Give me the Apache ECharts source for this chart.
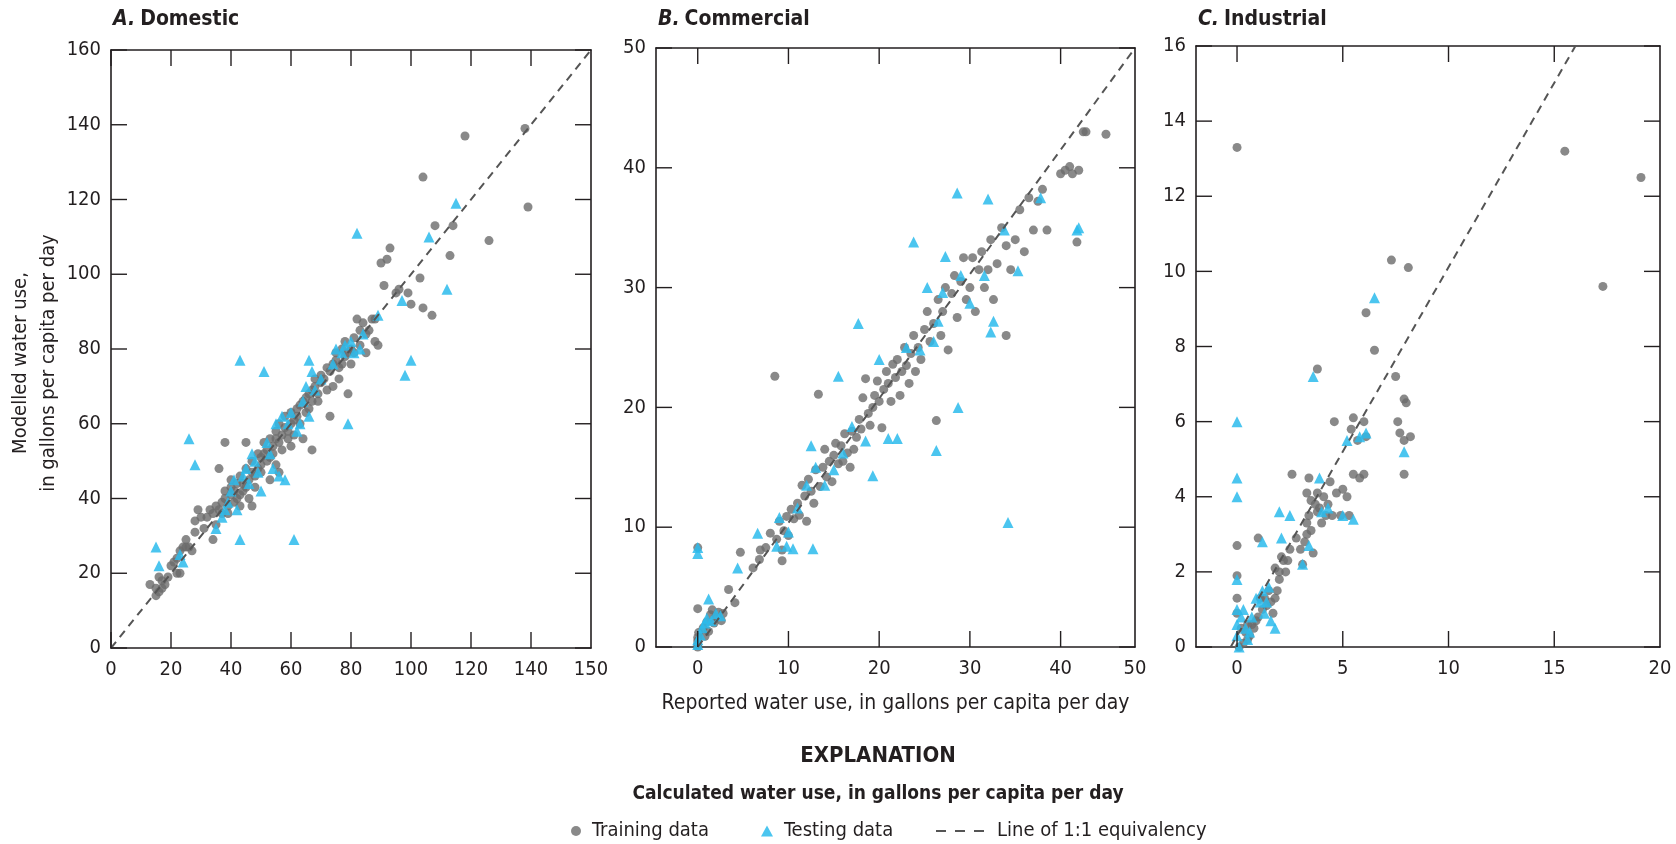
<!DOCTYPE html>
<html>
<head>
<meta charset="utf-8">
<title>Modelled vs reported water use</title>
<script src="https://cdn.jsdelivr.net/npm/echarts@6/dist/echarts.min.js"></script>
<style>
  html, body { margin: 0; padding: 0; background: #fff; }
  #chart { width: 1676px; height: 844px; }
</style>
</head>
<body>
<div id="chart"></div>
<script>
// values, [reported, modelled]
const domesticTrain = [
  [13,17],[15,16],[15,14],[16,15],[17,16],[17,18],[18,17],[16,19],[19,19],[20,22],[21,23],[22,24],[22,20],[23,20],
  [23,26],[24,27],[25,27],[25,29],[26,27],[27,26],[28,31],[28,34],[29,37],[30,35],[31,32],[32,35],[33,37],[34,29],
  [34,36],[35,38],[35,33],[36,37],[37,36],[37,39],[38,42],[38,40],[38,55],[39,38],[39,36],[40,41],[40,45],[40,43],
  [41,39],[41,42],[42,44],[42,40],[43,41],[43,46],[43,38],[44,44],[44,42],[45,48],[45,43],[46,45],[46,40],[47,47],
  [47,50],[48,46],[48,43],[49,48],[49,52],[50,49],[50,51],[50,47],[51,52],[51,55],[52,50],[52,53],[53,56],[53,51],
  [54,54],[54,52],[55,58],[55,56],[55,49],[56,55],[56,60],[57,57],[57,53],[58,59],[58,62],[59,58],[59,56],[60,60],
  [60,63],[61,61],[61,57],[62,64],[62,62],[63,65],[63,60],[64,66],[64,56],[65,67],[65,63],[66,68],[66,64],[67,69],
  [67,66],[67,53],[68,70],[68,72],[69,68],[69,66],[70,71],[70,73],[71,72],[72,75],[72,69],[73,74],[73,62],[74,76],
  [74,70],[75,77],[75,79],[76,75],[76,72],[77,80],[77,76],[78,78],[78,82],[79,79],[79,68],[80,80],[80,76],[81,83],
  [81,79],[82,88],[83,81],[83,85],[84,87],[85,79],[85,84],[86,85],[87,88],[88,88],[88,82],[89,81],[90,103],[91,97],
  [92,104],[93,107],[95,95],[96,96],[99,95],[100,92],[103,99],[104,91],[104,126],[107,89],[108,113],[113,105],
  [114,113],[118,137],[126,109],[138,139],[139,118],[36,48],[45,55],[60,54],[53,45],[47,38],[56,47]
];
const domesticTest = [
  [15,27],[16,22],[23,25],[24,23],[26,56],[28,49],[35,32],[37,35],[38,37],[39,39],[40,42],[41,45],[42,37],[43,77],
  [43,29],[44,46],[45,48],[46,44],[47,52],[48,50],[49,47],[50,42],[51,74],[52,55],[53,52],[54,48],[55,60],[56,46],
  [57,62],[58,45],[59,60],[60,63],[61,29],[62,58],[63,60],[64,66],[65,70],[66,62],[66,77],[67,74],[68,69],[70,72],
  [74,76],[75,80],[77,79],[78,81],[79,60],[80,82],[81,79],[82,111],[83,80],[84,84],[89,89],[97,93],[98,73],
  [100,77],[106,110],[112,96],[115,119]
];
const commercialTrain = [
  [0,0],[0,0.2],[0,0.5],[0,0.8],[0.1,1.2],[0,3.2],[0,8.3],[0.6,1.6],[0.8,0.9],[1,2.1],[1.2,1.3],[1.4,2.7],[1.6,3.1],
  [1.8,2],[2,2.5],[2.3,2.9],[2.6,2.2],[2.8,2.8],[3.4,4.8],[4.1,3.7],[4.7,7.9],[6.1,6.6],[6.8,7.3],[6.9,8.1],[7.5,8.3],
  [8,9.5],[8.5,22.6],[8.7,9],[9,10.5],[9.3,7.2],[9.3,8.1],[9.5,9.7],[9.8,10.9],[10,9.3],[10.3,11.5],[10.6,10.7],
  [11,12],[11.2,11],[11.5,13.5],[11.8,12.6],[12,10.5],[12.2,14],[12.5,13],[12.8,12],[13,14.8],[13.3,21.1],[13.5,13.4],
  [13.8,15],[14,16.5],[14.2,14.2],[14.5,15.5],[14.8,13.8],[15,16],[15.2,17],[15.5,15.3],[15.8,16.8],[16,15.5],
  [16.2,17.8],[16.5,16.2],[16.8,15],[17,18],[17.2,16.5],[17.5,17.5],[17.8,19],[18,18.2],[18.2,20.8],[18.5,22.4],
  [18.8,19.5],[19,18.5],[19.3,20],[19.5,21],[19.8,22.2],[20,20.5],[20.3,18.3],[20.5,21.5],[20.8,23],[21,22],
  [21.3,20.5],[21.5,23.6],[21.8,22.5],[22,24],[22.3,21],[22.5,23],[22.8,25],[23,23.5],[23.3,22],[23.5,24.5],
  [23.8,26],[24,23],[24.3,25],[24.6,24],[25,26.5],[25.3,28],[25.6,25.5],[26,27],[26.3,18.9],[26.5,29],[26.8,26],
  [27,28],[27.3,30],[27.6,24.8],[28,29.5],[28.3,31],[28.6,27.5],[29,30.5],[29.3,32.5],[29.6,29],[30,30],[30.3,32.5],
  [30.6,28],[31,31.5],[31.3,33],[31.6,30],[32,31.5],[32.3,34],[32.6,29],[33,32],[33.5,35],[34,26],[34,33.5],
  [34.5,31.5],[35,34],[35.5,36.5],[36,33],[36.5,37.5],[37,34.8],[37.5,37.2],[38,38.2],[38.5,34.8],[40,39.5],
  [40.5,39.8],[41,40.1],[41.3,39.5],[41.8,33.8],[42,39.8],[42.5,43],[42.8,43],[45,42.8]
];
const commercialTest = [
  [0,0.2],[0,0.6],[0.3,1],[0.5,1.6],[0.8,2],[1,2.4],[1.2,4],[1.5,2.2],[2,2.8],[2.5,2.6],[0,8.3],[0,7.8],[4.4,6.6],
  [6.6,9.5],[8.7,8.4],[9.8,8.4],[10.5,8.2],[12.7,8.2],[9,10.8],[10,9.6],[11,11.6],[12,13.5],[12.5,16.8],[13,15],
  [14,13.5],[15,14.8],[15.5,22.6],[16,16.2],[17,18.4],[17.7,27],[18.5,17.2],[19.3,14.3],[20,24],[21,17.4],[22,17.4],
  [23,25],[23.8,33.8],[24.5,24.8],[25.3,30],[26,25.5],[26.3,16.4],[26.5,27.2],[27.3,32.6],[27,29.6],[28.6,37.9],
  [28.7,20],[29,31],[30,28.7],[31.6,31],[32,37.4],[32.3,26.3],[32.6,27.2],[33.8,34.8],[34.2,10.4],[35.3,31.4],
  [37.8,37.5],[41.8,34.8],[42,35]
];
const industrialTrain = [
  [0,13.3],[15.5,13.2],[17.3,9.6],[19.1,12.5],[7.3,10.3],[8.1,10.1],[6.1,8.9],[6.5,7.9],[3.8,7.4],[7.5,7.2],[7.6,6],
  [7.9,6.6],[8,6.5],[8.2,5.6],[7.7,5.7],[7.9,5.5],[7.9,4.6],[5.5,6.1],[5.4,5.8],[6,6],[5.7,5.5],[6.1,5.6],[5.5,4.6],
  [5.8,4.5],[6,4.6],[4.6,6],[4.4,4.4],[4.7,4.1],[4.2,3.5],[4.5,3.5],[3.4,4.5],[3.3,4.1],[3.4,3.5],[3.3,3.3],[3.3,3],
  [3.2,2.8],[3,2.6],[2.6,4.6],[2.5,2.6],[2.8,2.9],[3.1,2.2],[2.1,2.4],[2,2],[2.3,2],[2,1.8],[1.9,1.5],[1.5,1.5],
  [1.3,1.3],[1.6,1.2],[1.2,1],[1,0.8],[0.9,0.7],[0.8,0.5],[0.6,0.3],[0.5,0.2],[0.3,0.1],[0.1,0],[0,2.7],[0,1.9],
  [0,1.3],[0,0.9],[0.2,0.5],[1.1,1.3],[1.4,1.1],[1.8,1.3],[1.7,0.9],[2.2,2.3],[2.4,2.3],[1.8,2.1],[3.7,3.8],
  [3.8,4.1],[4,3.3],[3.9,3.7],[3.5,3.9],[3.6,2.5],[1,2.9],[0.7,0.6],[0.4,0.4],[0.5,0.6],[3.5,3.1],[3.8,3.6],
  [5.3,3.5],[4.9,3.5],[5,4.2],[5.2,4],[4.1,4],[4.3,3.8]
];
const industrialTest = [
  [0,6],[0,4.5],[0,4],[0,1.8],[0,1],[0,0.6],[0,0.3],[0.1,0],[0.2,0.8],[0.3,1],[0.4,0.5],[0.5,0.2],[0.6,0.4],
  [0.7,0.8],[0.9,1.3],[1.2,1.5],[1.3,0.9],[1.4,1.2],[1.6,0.7],[1.8,0.5],[1.5,1.6],[1.1,1.2],[2,3.6],[2.1,2.9],
  [2.5,3.5],[3.1,2.2],[3.4,2.7],[3.6,7.2],[3.9,4.5],[4,3.6],[4.3,3.7],[5,3.5],[5.2,5.5],[5.5,3.4],[5.8,5.6],
  [6.1,5.7],[6.5,9.3],[7.9,5.2],[1.2,2.8]
];
// 1:1 line end points as drawn in each panel
const lineA = [[0,0],[160,160]];
const lineB = [[0,0],[48.2,50]];
const lineC = [[-0.3,0],[16,16]];

// axis ranges and ticks
const titles = [['A.', 'Domestic'], ['B.', 'Commercial'], ['C.', 'Industrial']];
const xTicksA = [0,20,40,60,80,100,120,140];
const xTicksB = [0,10,20,30,40];
const xTicksC = [0,5,10,15];
const yTicksA = [0,20,40,60,80,100,120,140,160];
const yTicksB = [0,10,20,30,40,50];
const yTicksC = [0,2,4,6,8,10,12,14,16];

const FONT = "'Liberation Sans Narrow', 'DejaVu Sans Condensed', 'Roboto Condensed', Roboto, sans-serif";
const INK = '#231f20';
const GREY = '#6b6b6b';
const CYAN = '#2bbbec';
const TICK_LEN = 16;

const chart = echarts.init(document.getElementById('chart'));

const grids = [
  {left: 111, top: 50, width: 480, height: 598},
  {left: 656, top: 48, width: 479, height: 599},
  {left: 1196, top: 46, width: 464, height: 601}
];

const panels = [
  {xmin: 0, xmax: 160, ymin: 0, ymax: 160, xt: xTicksA, xl: xTicksA.concat([160]), yt: yTicksA, xlast: '150',
   train: domesticTrain, test: domesticTest, line: lineA},
  {xmin: -4.6, xmax: 48.2, ymin: 0, ymax: 50, xt: xTicksB, xl: xTicksB.concat([48.2]), yt: yTicksB, xlast: '50',
   train: commercialTrain, test: commercialTest, line: lineB},
  {xmin: -1.94, xmax: 20, ymin: 0, ymax: 16, xt: xTicksC, xl: xTicksC.concat([20]), yt: yTicksC, xlast: '20',
   train: industrialTrain, test: industrialTest, line: lineC}
];

const axisLine = () => ({show: true, onZero: false, lineStyle: {color: INK, width: 1.6}});
const label = (extra) => Object.assign({color: INK, fontFamily: FONT, fontSize: 20}, extra);

let xAxis = [], yAxis = [], series = [];
panels.forEach((p, i) => {
  const yStep = p.yt[1] - p.yt[0];
  xAxis.push({
    type: 'value', gridIndex: i, position: 'bottom', min: p.xmin, max: p.xmax,
    axisLine: axisLine(), axisTick: {show: false}, splitLine: {show: false},
    axisLabel: label({margin: 12, customValues: p.xl.slice(),
      formatter: (v) => v === p.xmax ? p.xlast : String(v)}),
    name: i === 1 ? 'Reported water use, in gallons per capita per day' : '',
    nameLocation: 'middle', nameGap: 46,
    nameTextStyle: {color: INK, fontFamily: FONT, fontSize: 21}
  });
  xAxis.push({
    type: 'value', gridIndex: i, position: 'top', min: p.xmin, max: p.xmax,
    axisLine: axisLine(), axisTick: {show: false}, axisLabel: {show: false}, splitLine: {show: false}
  });
  yAxis.push({
    type: 'value', gridIndex: i, position: 'left', min: p.ymin, max: p.ymax, interval: yStep,
    axisLine: axisLine(), axisTick: {show: false}, splitLine: {show: false},
    axisLabel: label({margin: 10}),
    name: i === 0 ? 'Modelled water use,\nin gallons per capita per day' : '',
    nameLocation: 'middle', nameGap: 48, nameRotate: 90,
    nameTextStyle: {color: INK, fontFamily: FONT, fontSize: 20, lineHeight: 28, padding: [0, 28, 0, 0]}
  });
  yAxis.push({
    type: 'value', gridIndex: i, position: 'right', min: p.ymin, max: p.ymax, interval: yStep,
    axisLine: axisLine(), axisTick: {show: false}, axisLabel: {show: false}, splitLine: {show: false}
  });
  series.push({
    name: 'Training data', type: 'scatter', xAxisIndex: 2 * i, yAxisIndex: 2 * i,
    symbol: 'circle', symbolSize: 9, data: p.train,
    itemStyle: {color: GREY, opacity: 0.8}
  });
  series.push({
    name: 'Testing data', type: 'scatter', xAxisIndex: 2 * i, yAxisIndex: 2 * i,
    symbol: 'triangle', symbolSize: 11, data: p.test,
    itemStyle: {color: CYAN, opacity: 0.85}
  });
  series.push({
    name: 'Line of 1:1 equivalency', type: 'line', xAxisIndex: 2 * i, yAxisIndex: 2 * i,
    symbol: 'none', data: p.line,
    lineStyle: {color: '#555555', width: 2, type: [8, 6]},
    itemStyle: {color: '#555555'}
  });
});

const legendText = () => ({color: INK, fontFamily: FONT, fontSize: 20, padding: [0, 0, 0, 6]});

chart.setOption({
  animation: false,
  backgroundColor: '#ffffff',
  title: titles.map((t, i) => ({
    text: '{a|' + t[0] + '} {b|' + t[1] + '}',
    left: grids[i].left - 3, top: 4,
    textStyle: {rich: {
      a: {fontFamily: FONT, fontSize: 21, fontWeight: 'bold', fontStyle: 'italic', color: INK},
      b: {fontFamily: FONT, fontSize: 21, fontWeight: 'bold', color: INK}
    }}
  })).concat([
    {text: 'EXPLANATION', left: 873, top: 740, textAlign: 'center',
     textStyle: {fontFamily: FONT, fontSize: 22, fontWeight: 'bold', color: INK}},
    {text: 'Calculated water use, in gallons per capita per day', left: 873, top: 780, textAlign: 'center',
     textStyle: {fontFamily: FONT, fontSize: 19, fontWeight: 'bold', color: INK}}
  ]),
  legend: [
    {data: ['Training data'], left: 566, top: 816, itemWidth: 10, itemHeight: 10, textStyle: legendText()},
    {data: ['Testing data'], left: 756, top: 816, itemWidth: 12, itemHeight: 11, textStyle: legendText()},
    {data: [{name: 'Line of 1:1 equivalency', itemStyle: {color: 'rgba(0,0,0,0)', borderWidth: 0},
             lineStyle: {color: '#555555', width: 2, type: [10, 9]}}],
     left: 930, top: 816, itemWidth: 50, itemHeight: 10, textStyle: legendText()}
  ],
  grid: grids,
  xAxis: xAxis,
  yAxis: yAxis,
  series: series
});

// inward tick marks on all four sides of each frame, positioned through the
// panel's own axis scales (convertToPixel) and drawn as graphic lines on top
const tickLines = [];
function seg(x1, y1, x2, y2) {
  tickLines.push({
    type: 'line', z: 100, silent: true,
    shape: {x1: x1, y1: y1, x2: x2, y2: y2},
    style: {stroke: INK, lineWidth: 1.4}
  });
}
panels.forEach((p, i) => {
  const finder = {seriesIndex: 3 * i};
  p.xt.forEach(v => {
    const b = chart.convertToPixel(finder, [v, p.ymin]);
    const t = chart.convertToPixel(finder, [v, p.ymax]);
    seg(b[0], b[1], b[0], b[1] - TICK_LEN);
    seg(t[0], t[1], t[0], t[1] + TICK_LEN);
  });
  p.yt.forEach(v => {
    const l = chart.convertToPixel(finder, [p.xmin, v]);
    const r = chart.convertToPixel(finder, [p.xmax, v]);
    seg(l[0], l[1], l[0] + TICK_LEN, l[1]);
    seg(r[0], r[1], r[0] - TICK_LEN, r[1]);
  });
});
chart.setOption({graphic: {elements: tickLines}});
</script>
</body>
</html>
